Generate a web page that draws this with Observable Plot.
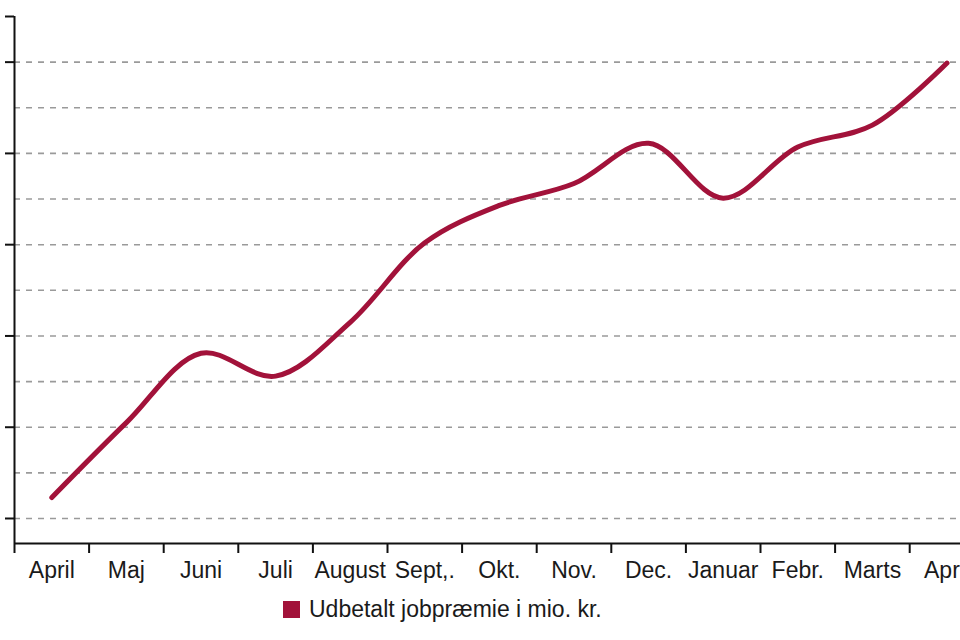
<!DOCTYPE html>
<html>
<head>
<meta charset="utf-8">
<script src="https://cdn.jsdelivr.net/npm/d3@7"></script>
<script src="https://cdn.jsdelivr.net/npm/@observablehq/plot@0.6"></script>
<style>
  html, body { margin: 0; padding: 0; background: #fff; overflow: hidden; }
  #wrap { position: relative; width: 960px; height: 640px; font-family: "Liberation Sans", Arial, sans-serif; }
  #legend { position: absolute; left: 283px; top: 596px; display: flex; align-items: center; font-size: 23px; color: #1a1a1a; }
  #legend .sw { width: 17px; height: 17px; background: #a2123a; margin-right: 9px; }
</style>
</head>
<body>
<div id="wrap">
  <div id="chart"></div>
  <div id="legend"><span class="sw"></span><span>Udbetalt jobpræmie i mio. kr.</span></div>
</div>
<script>
// Data
const months = ["April", "Maj", "Juni", "Juli", "August", "Sept,.", "Okt.", "Nov.", "Dec.", "Januar", "Febr.", "Marts", "April"];
const values = [12.3, 20.5, 28.1, 25.6, 31.5, 40.2, 44.3, 46.7, 51.1, 45.1, 50.7, 53.1, 59.9];
const yMajorTicks = [10, 20, 30, 40, 50, 60, 65];
const yGridLines = [10, 15, 20, 25, 30, 35, 40, 45, 50, 55, 60];
const yDomain = [7.26, 65];

const data = months.map((m, i) => ({i, month: m, value: values[i]}));
const idx = d3.range(months.length);
const bounds = d3.range(months.length + 1).map(k => k - 0.5);

const chart = Plot.plot({
  width: 960,
  height: 590,
  marginLeft: 14,
  marginRight: 0,
  marginTop: 16,
  marginBottom: 47,
  style: {fontFamily: "'Liberation Sans', Arial, sans-serif", background: "white", overflow: "visible"},
  x: {domain: [-0.5, months.length - 0.5], range: [14, 14 + 74.6 * months.length], axis: null},
  y: {domain: yDomain, axis: null},
  marks: [
    Plot.ruleY(yGridLines, {stroke: "#9a9a9a", strokeWidth: 1.6, strokeDasharray: "6,6"}),
    Plot.line(data, {x: "i", y: "value", curve: "catmull-rom", stroke: "#a2123a", strokeWidth: 5, strokeLinecap: "round"}),
    Plot.ruleY([yDomain[0]], {stroke: "#111", strokeWidth: 2}),
    Plot.ruleX([-0.5], {stroke: "#111", strokeWidth: 2}),
    Plot.axisY(yMajorTicks, {anchor: "left", label: null, tickSize: 9, tickFormat: () => "", stroke: "#111", strokeWidth: 2}),
    Plot.axisX(bounds, {anchor: "bottom", label: null, tickSize: 10, tickFormat: () => "", stroke: "#111", strokeWidth: 2}),
    Plot.axisX(idx, {anchor: "bottom", label: null, tickSize: 0, tickPadding: 18, tickFormat: i => months[i], fontSize: 23, fill: "#1a1a1a"})
  ]
});
document.getElementById("chart").appendChild(chart);
</script>
</body>
</html>
